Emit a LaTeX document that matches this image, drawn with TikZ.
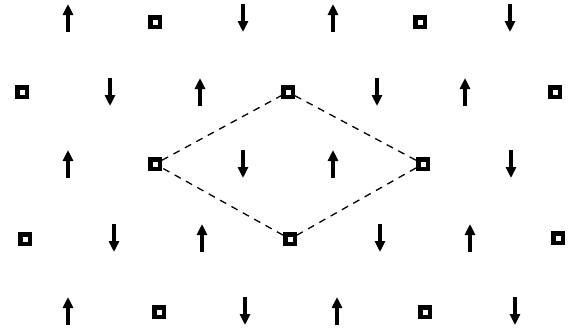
\documentclass[tikz,border=0pt]{standalone}
\usetikzlibrary{arrows.meta}
\begin{document}
\begin{tikzpicture}[x=1pt, y=-1pt,
  site/.style={draw, line width=4.5pt, minimum size=9.5pt, inner sep=0pt},
  spin/.style={line width=4.2pt, -{Triangle[length=11pt, width=10pt]}},
  bond/.style={line width=1.3pt, dash pattern=on 7pt off 6pt}]
  \useasboundingbox (0,0) rectangle (568,333);
  % vacant sites
  \node[site] (v01) at (155,22) {};
  \node[site] (v02) at (420,22) {};
  \node[site] (v11) at (22,92) {};
  \node[site] (v12) at (288,92) {};
  \node[site] (v13) at (555,92) {};
  \node[site] (v21) at (155,164) {};
  \node[site] (v22) at (423,164) {};
  \node[site] (v31) at (25,239) {};
  \node[site] (v32) at (290,239) {};
  \node[site] (v33) at (558,238) {};
  \node[site] (v41) at (159,312) {};
  \node[site] (v42) at (425,312) {};
  % spins up
  \foreach \x/\y in {68/18, 333/18, 200/92, 465/92, 68/164, 333/164,
                     202/238, 470/238, 68/311, 337/311}
    \draw[spin] (\x,\y+14) -- (\x,\y-14);
  % spins down
  \foreach \x/\y in {243/18, 510/18, 110/92, 377/92, 243/164, 511/164,
                     114/238, 380/238, 245/311, 515/311}
    \draw[spin] (\x,\y-14) -- (\x,\y+14);
  % unit cell
  \draw[bond] (v21) -- (v12) -- (v22) -- (v32) -- (v21);
\end{tikzpicture}
\end{document}
